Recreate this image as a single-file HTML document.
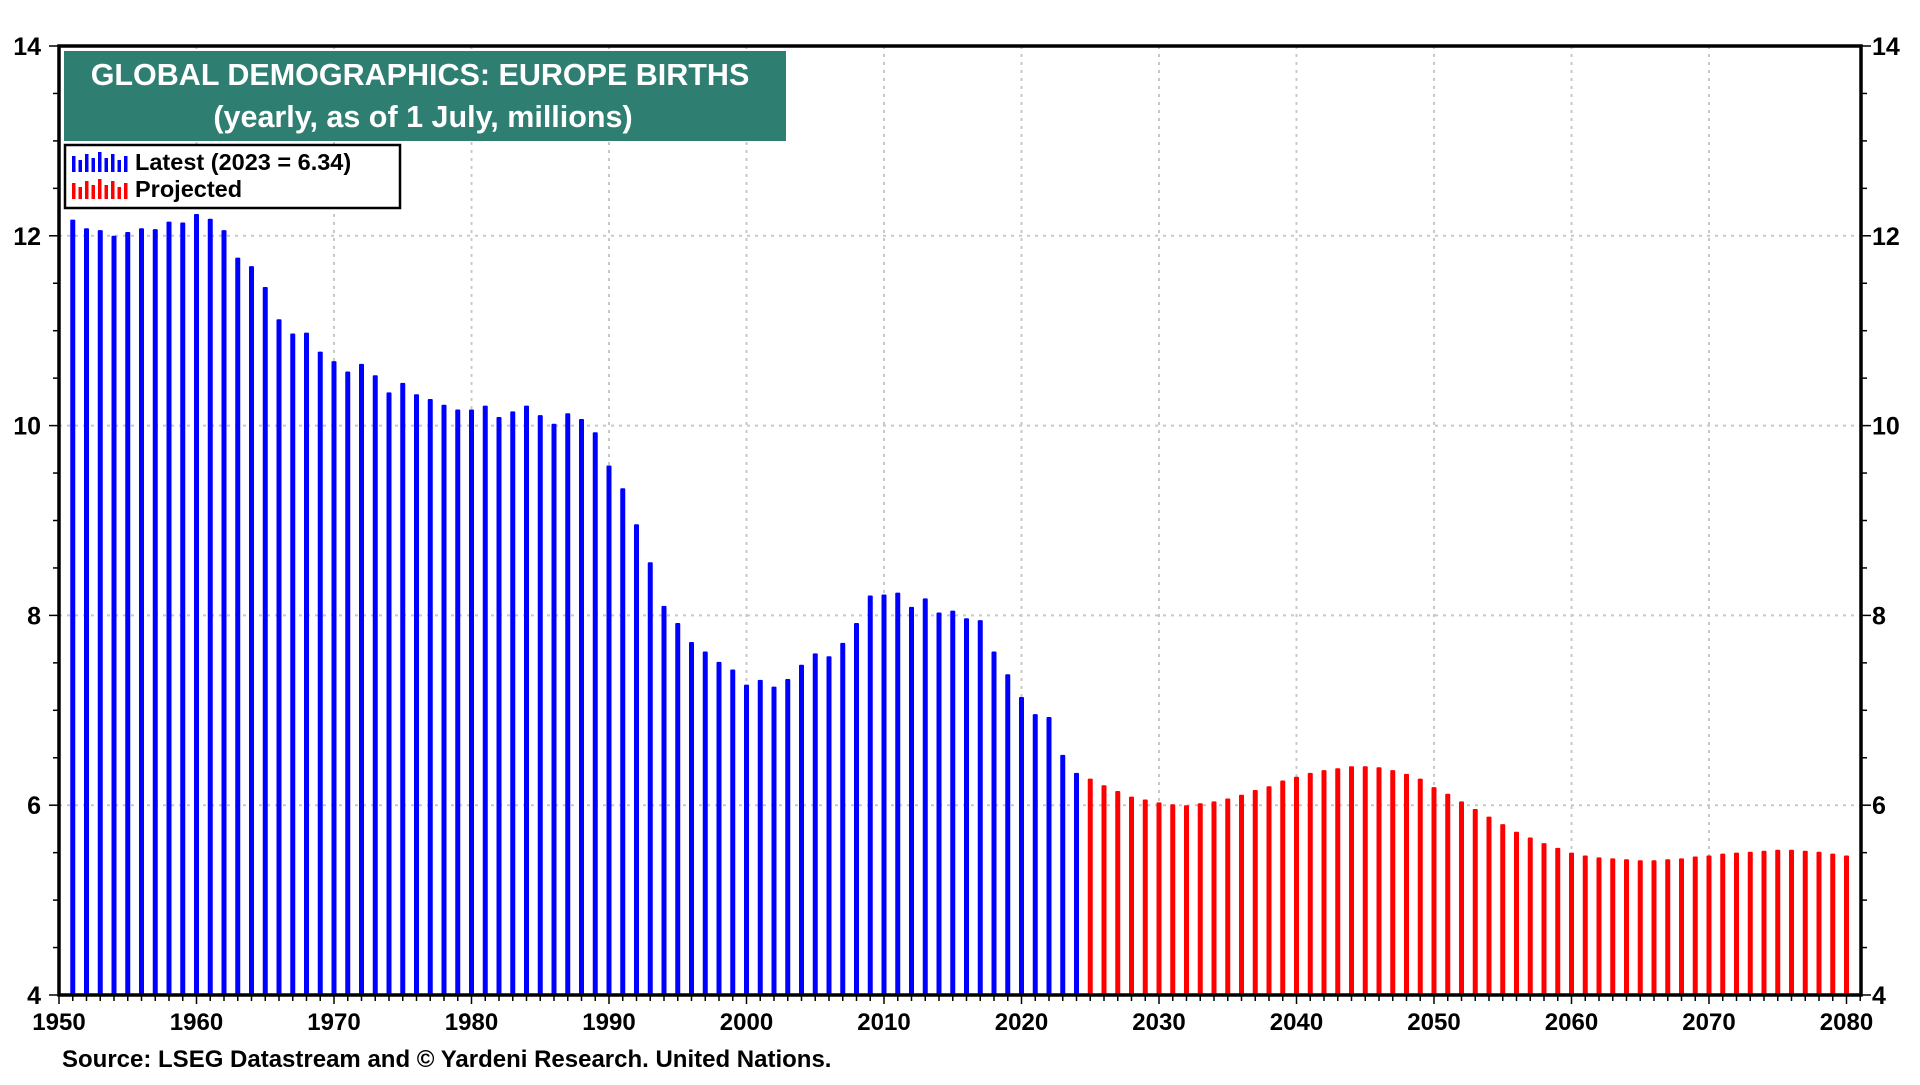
<!DOCTYPE html>
<html><head><meta charset="utf-8"><style>
html,body{margin:0;padding:0;background:#fff;}
svg text{font-family:"Liberation Sans",Arial,sans-serif;font-weight:bold;}
</style></head><body>
<svg id="chart" width="1920" height="1080" viewBox="0 0 1920 1080" xmlns="http://www.w3.org/2000/svg">
<g id="grid"></g>
<g id="bars"></g>
<g id="axes"></g>
<rect x="64" y="51" width="722" height="90" fill="#2e7f72"/>
<text x="420" y="85" fill="#fff" font-size="30.5" text-anchor="middle">GLOBAL DEMOGRAPHICS: EUROPE BIRTHS</text>
<text x="423" y="127" fill="#fff" font-size="30.5" text-anchor="middle">(yearly, as of 1 July, millions)</text>
<g>
<rect x="65" y="145" width="335" height="63" fill="#fff" stroke="#000" stroke-width="2.5"/>
<g id="legicons"></g>
<text x="135" y="170" font-size="23.5">Latest (2023 = 6.34)</text>
<text x="135" y="197" font-size="23.5">Projected</text>
</g>
<text x="62" y="1067" font-size="24">Source: LSEG Datastream and © Yardeni Research. United Nations.</text>
</svg>
<script>
const latestValues=[12.17,12.08,12.06,12.0,12.04,12.08,12.07,12.15,12.14,12.23,12.18,12.06,11.77,11.68,11.46,11.12,10.97,10.98,10.78,10.68,10.57,10.65,10.53,10.35,10.45,10.33,10.28,10.22,10.17,10.17,10.21,10.09,10.15,10.21,10.11,10.02,10.13,10.07,9.93,9.58,9.34,8.96,8.56,8.1,7.92,7.72,7.62,7.51,7.43,7.27,7.32,7.25,7.33,7.48,7.6,7.57,7.71,7.92,8.21,8.22,8.24,8.09,8.18,8.03,8.05,7.97,7.95,7.62,7.38,7.14,6.96,6.93,6.53,6.34];
const projectedValues=[6.28,6.21,6.15,6.09,6.06,6.03,6.01,6.0,6.02,6.04,6.07,6.11,6.16,6.2,6.26,6.3,6.34,6.37,6.39,6.41,6.41,6.4,6.37,6.33,6.28,6.19,6.12,6.04,5.96,5.88,5.8,5.72,5.66,5.6,5.55,5.5,5.47,5.45,5.44,5.43,5.42,5.42,5.43,5.44,5.46,5.47,5.49,5.5,5.51,5.52,5.53,5.53,5.52,5.51,5.49,5.47];
const firstYear=1951;
const xTicks=[1950,1960,1970,1980,1990,2000,2010,2020,2030,2040,2050,2060,2070,2080];
const yTicks=[4,6,8,10,12,14];
const NS="http://www.w3.org/2000/svg";
const L=59,R=1861,T=46,B=995;
const x=y=>L+(y-1950)*13.75;
const yS=v=>B-(v-4)*(B-T)/10;
function mk(p,t,a){const e=document.createElementNS(NS,t);for(const k in a)e.setAttribute(k,a[k]);p.appendChild(e);return e;}
const grid=document.getElementById('grid'),bars=document.getElementById('bars'),axes=document.getElementById('axes');
xTicks.forEach(t=>{if(t>1950&&t<2080){const l=mk(grid,'line',{x1:x(t),x2:x(t),y1:T,y2:B,stroke:'#c8c8c8','stroke-width':2,'stroke-dasharray':'3,5'});}});
yTicks.forEach(t=>{if(t>4&&t<14){const l=mk(grid,'line',{x1:L,x2:R,y1:yS(t),y2:yS(t),stroke:'#c8c8c8','stroke-width':2,'stroke-dasharray':'3,5'});}});
function drawBars(vals,start,color,name){vals.forEach((v,i)=>{const yr=start+i;const r=mk(bars,'rect',{x:x(yr)-2.5,y:yS(v),width:5,height:B-yS(v),fill:color,rx:1});});}
drawBars(latestValues,firstYear,'#0000ff','bar-latest');
drawBars(projectedValues,firstYear+latestValues.length,'#ff0000','bar-projected');
mk(axes,'rect',{x:L,y:T,width:R-L,height:B-T,fill:'none',stroke:'#000','stroke-width':3.5});
for(let yr=1950;yr<=2081;yr++){mk(axes,'line',{x1:x(yr),x2:x(yr),y1:B,y2:B+(yr%10==0?9:6),stroke:'#000','stroke-width':1.5});}
for(let v=4;v<=14;v+=0.5){mk(axes,'line',{x1:L-(v%2==0?10:6),x2:L,y1:yS(v),y2:yS(v),stroke:'#000','stroke-width':1.5});mk(axes,'line',{x1:R,x2:R+(v%2==0?10:6),y1:yS(v),y2:yS(v),stroke:'#000','stroke-width':1.5});}
xTicks.forEach(t=>{const e=mk(axes,'text',{x:x(t),y:1030,'font-size':24,'text-anchor':'middle'});e.textContent=t;});
yTicks.forEach(t=>{let e=mk(axes,'text',{x:41,y:yS(t)+9,'font-size':25,'text-anchor':'end'});e.textContent=t;
e=mk(axes,'text',{x:1872,y:yS(t)+9,'font-size':25,'text-anchor':'start'});e.textContent=t;});
const li=document.getElementById('legicons');const hs=[14,10,16,12,18,12,16,10,14];
[['#0000ff',172],['#ff0000',199]].forEach(([c,base])=>{hs.forEach((h,i)=>{mk(li,'rect',{x:72+i*6.5,y:base-h-2,width:3.5,height:h+2,fill:c});});});
</script>
</body></html>
